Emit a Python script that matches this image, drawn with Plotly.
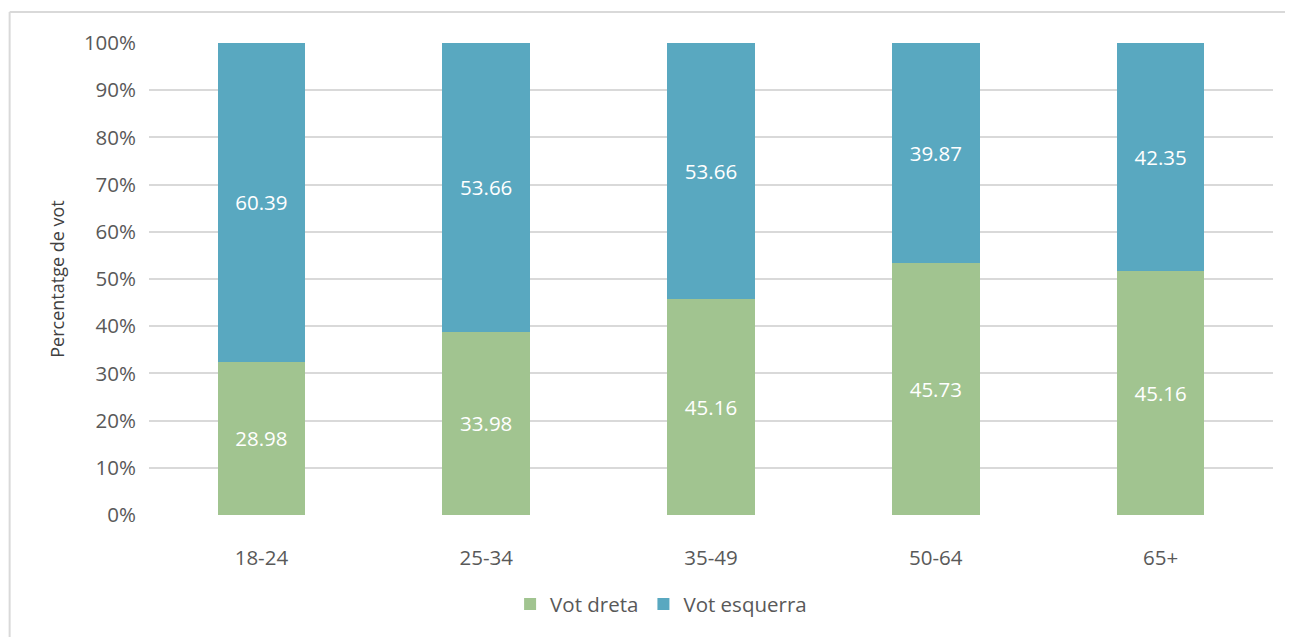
import plotly.graph_objects as go

categories = ["18-24", "25-34", "35-49", "50-64", "65+"]
vot_dreta = [28.98, 33.98, 45.16, 45.73, 45.16]
vot_esquerra = [60.39, 53.66, 53.66, 39.87, 42.35]

FONT = "Open Sans"
GREEN = "#A1C490"
BLUE = "#59A8C0"

fig = go.Figure()
fig.add_trace(go.Bar(
    x=categories, y=vot_dreta, name="Vot dreta",
    marker=dict(color=GREEN, line=dict(width=0)),
    text=[f"{v:.2f}" for v in vot_dreta], textposition="inside",
    insidetextanchor="middle", textangle=0,
    textfont=dict(color="white", size=20.5, family=FONT),
))
fig.add_trace(go.Bar(
    x=categories, y=vot_esquerra, name="Vot esquerra",
    marker=dict(color=BLUE, line=dict(width=0)),
    text=[f"{v:.2f}" for v in vot_esquerra], textposition="inside",
    insidetextanchor="middle", textangle=0,
    textfont=dict(color="white", size=20.5, family=FONT),
))

border = dict(color="#D9D9D9", width=2)
fig.update_layout(
    width=1285, height=629,
    barmode="stack", barnorm="percent", bargap=0.61,
    paper_bgcolor="white", plot_bgcolor="white",
    margin=dict(l=140.5, r=19.5, t=35, b=122, autoexpand=False),
    font=dict(family=FONT, color="#595959", size=20.5),
    legend=dict(orientation="h", x=0.4556, xanchor="center", y=-0.189, yanchor="middle",
                font=dict(size=20.5, color="#595959"), itemwidth=30, traceorder="normal"),
    shapes=[
        dict(type="line", xref="paper", yref="paper", x0=-0.124, x1=1.05,
             y0=1.0657, y1=1.0657, line=border, layer="below"),
        dict(type="line", xref="paper", yref="paper", x0=-0.124, x1=-0.124,
             y0=-0.3, y1=1.0657, line=border, layer="below"),
    ],
)
fig.update_yaxes(range=[0, 100], dtick=10, ticksuffix="%", showgrid=True,
                 gridcolor="#D9D9D9", gridwidth=1.5, zeroline=False, showline=False,
                 ticks="", ticklabelstandoff=12,
                 title=dict(text="Percentatge de vot", font=dict(size=18, color="#404040"), standoff=14),
                 tickfont=dict(size=20.5, color="#595959"))
fig.update_xaxes(showline=False, ticks="", ticklabelstandoff=28,
                 tickfont=dict(size=20.5, color="#595959"))

fig.write_html("out.html")
